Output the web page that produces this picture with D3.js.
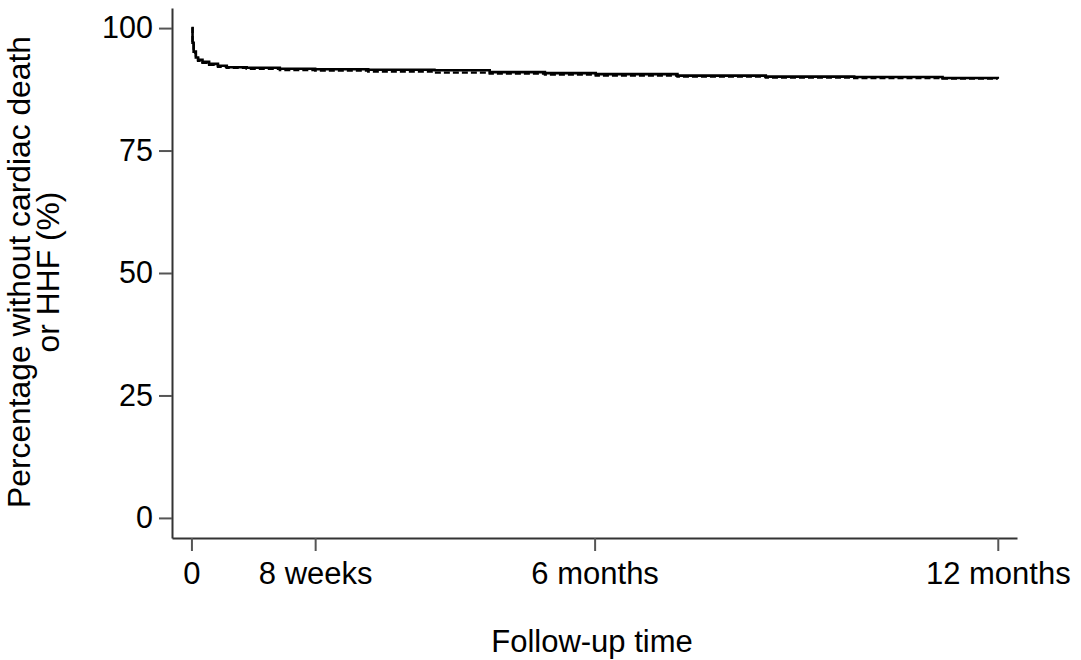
<!DOCTYPE html>
<html>
<head>
<meta charset="utf-8">
<script src="https://cdn.jsdelivr.net/npm/d3@7/dist/d3.min.js"></script>
<style>
  html, body { margin: 0; padding: 0; background: #fff; }
  svg { display: block; font-family: "Liberation Sans", Arial, sans-serif; }
</style>
</head>
<body>
<svg id="chart" width="1081" height="660"></svg>
<script>
// ---- data (days of follow-up, % without cardiac death or HHF) ----
const solidTime = [0, 0.5, 1, 2, 3, 5, 8, 12, 16, 25, 40, 56, 80, 110, 135, 160, 183, 220, 260, 300, 340, 365];
const solidSurv = [100, 97, 95.2, 94, 93.5, 93.1, 92.7, 92.3, 92.0, 91.9, 91.7, 91.6, 91.5, 91.4, 91.0, 90.8, 90.6, 90.3, 90.1, 90.0, 89.8, 89.7];
const dashedTime = [0, 0.5, 1, 2, 3, 5, 8, 12, 16, 25, 40, 56, 80, 110, 135, 160, 183, 220, 260, 300, 340, 365];
const dashedSurv = [100, 96.8, 95.0, 93.8, 93.3, 92.9, 92.5, 92.1, 91.9, 91.7, 91.4, 91.3, 91.1, 90.9, 90.7, 90.5, 90.3, 90.1, 89.9, 89.8, 89.7, 89.65];
const xTickValues = [0, 56, 182.5, 365];
const xTickLabels = ["0", "8 weeks", "6 months", "12 months"];
const yTickValues = [0, 25, 50, 75, 100];
const yTitleLines = ["Percentage without cardiac death", "or HHF (%)"];
const xTitle = "Follow-up time";

const svg = d3.select("#chart");
const x = d3.scaleLinear().domain([-8.8, 373.7]).range([172, 1017]);
const y = d3.scaleLinear().domain([-4.1, 104.1]).range([538, 8]);

// y axis
const yAxis = svg.append("g").attr("transform", "translate(172,0)")
  .call(d3.axisLeft(y).tickValues(yTickValues).tickSize(13).tickSizeOuter(0).tickPadding(6));
yAxis.select(".domain").attr("stroke", "#333").attr("stroke-width", 2);
yAxis.selectAll(".tick line").attr("stroke", "#555").attr("stroke-width", 2);
yAxis.selectAll(".tick text").attr("font-size", 30.5).attr("fill", "#000")
  .attr("font-family", "Liberation Sans, Arial, sans-serif");

// x axis
const xAxis = svg.append("g").attr("transform", "translate(0,538)")
  .call(d3.axisBottom(x).tickValues(xTickValues).tickSize(13).tickSizeOuter(0).tickPadding(11)
    .tickFormat((d, i) => xTickLabels[i]));
xAxis.select(".domain").attr("stroke", "#333").attr("stroke-width", 2);
xAxis.selectAll(".tick line").attr("stroke", "#555").attr("stroke-width", 2);
xAxis.selectAll(".tick text").attr("font-size", 31).attr("fill", "#000")
  .attr("font-family", "Liberation Sans, Arial, sans-serif");

// curves
const line = d3.line().curve(d3.curveStepAfter).x(d => x(d[0])).y(d => y(d[1]));
svg.append("path")
  .datum(dashedTime.map((t, i) => [t, dashedSurv[i]]))
  .attr("d", line).attr("fill", "none").attr("stroke", "#000")
  .attr("stroke-width", 2.3).attr("stroke-dasharray", "6,3");
svg.append("path")
  .datum(solidTime.map((t, i) => [t, solidSurv[i]]))
  .attr("d", line).attr("fill", "none").attr("stroke", "#000")
  .attr("stroke-width", 2.6);

// y title
const yt = svg.append("text")
  .attr("transform", "translate(0,272) rotate(-90)")
  .attr("text-anchor", "middle").attr("font-size", 31.8).attr("fill", "#000");
yt.append("tspan").attr("x", 0).attr("y", 30).text(yTitleLines[0]);
yt.append("tspan").attr("x", 0).attr("y", 59).text(yTitleLines[1]);

// x title
svg.append("text").attr("x", 592).attr("y", 652)
  .attr("text-anchor", "middle").attr("font-size", 31).attr("fill", "#000")
  .text(xTitle);
</script>
</body>
</html>
